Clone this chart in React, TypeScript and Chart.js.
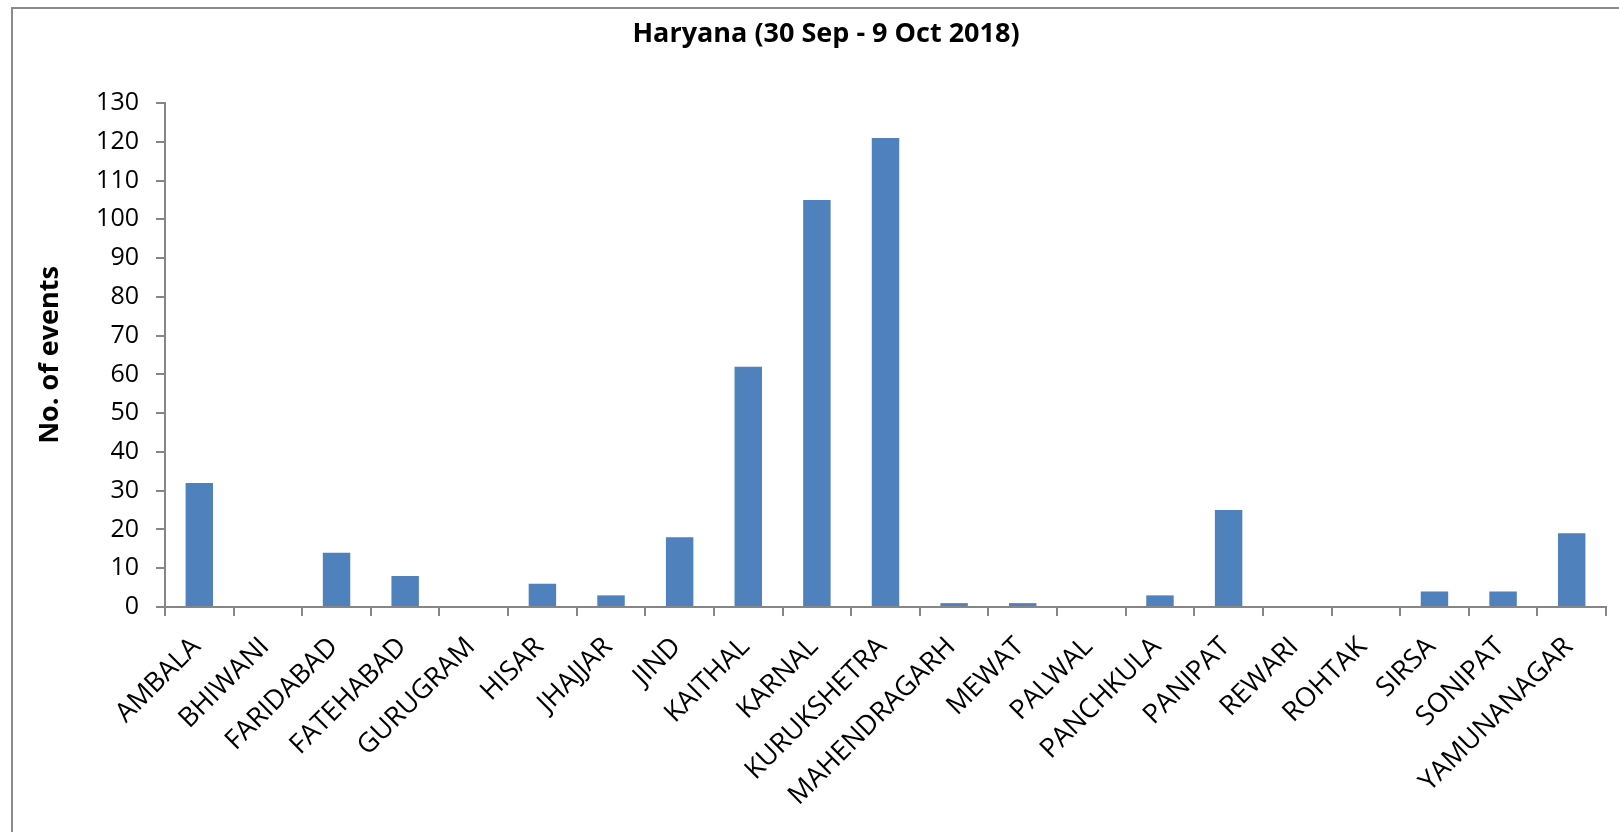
import React, { useEffect, useRef } from "react";
import { Chart, registerables } from "chart.js";

Chart.register(...registerables);

const categories: string[] = [
  "AMBALA", "BHIWANI", "FARIDABAD", "FATEHABAD", "GURUGRAM", "HISAR", "JHAJJAR",
  "JIND", "KAITHAL", "KARNAL", "KURUKSHETRA", "MAHENDRAGARH", "MEWAT", "PALWAL",
  "PANCHKULA", "PANIPAT", "REWARI", "ROHTAK", "SIRSA", "SONIPAT", "YAMUNANAGAR",
];
const eventCounts: number[] = [
  32, 0, 14, 8, 0, 6, 3, 18, 62, 105, 121, 1, 1, 0, 3, 25, 0, 0, 4, 4, 19,
];
const chartTitle = "Haryana (30 Sep - 9 Oct 2018)";
const yAxisTitle = "No. of events";
const yMin = 0;
const yMax = 130;
const yStep = 10;

const FONT = "'Open Sans', 'Noto Sans', sans-serif";
const AXIS_GRAY = "#868686";

const framePlugin = {
  id: "frameAndTitle",
  beforeDraw(chart: any) {
    const ctx = chart.ctx;
    ctx.save();
    ctx.fillStyle = "#ffffff";
    ctx.fillRect(0, 0, chart.width, chart.height);
    ctx.strokeStyle = "#8a8a8a";
    ctx.lineWidth = 2;
    ctx.beginPath();
    ctx.moveTo(12, chart.height + 5);
    ctx.lineTo(12, 8);
    ctx.lineTo(chart.width + 5, 8);
    ctx.stroke();
    ctx.restore();
  },
  afterDraw(chart: any) {
    const ctx = chart.ctx;
    ctx.save();
    ctx.fillStyle = "#000000";
    ctx.font = `bold 27px ${FONT}`;
    ctx.textAlign = "center";
    ctx.textBaseline = "middle";
    ctx.fillText(chartTitle, 826, 34);
    ctx.restore();
  },
};

export default function App() {
  const canvasRef = useRef<HTMLCanvasElement | null>(null);

  useEffect(() => {
    if (!canvasRef.current) return;
    const chart = new Chart(canvasRef.current, {
      type: "bar",
      data: {
        labels: categories,
        datasets: [
          {
            data: eventCounts,
            backgroundColor: "#4F81BD",
            borderWidth: 0,
            barPercentage: 0.4,
            categoryPercentage: 1.0,
          },
        ],
      },
      options: {
        animation: false,
        responsive: false,
        devicePixelRatio: 1,
        layout: { padding: { left: 0, right: 13, top: 103, bottom: 0 } },
        plugins: {
          legend: { display: false },
          tooltip: { enabled: false },
          title: { display: false },
        },
        scales: {
          x: {
            grid: {
              display: true,
              drawOnChartArea: false,
              drawTicks: true,
              tickLength: 9,
              color: AXIS_GRAY,
              lineWidth: 2,
              offset: true,
            },
            border: { display: true, color: AXIS_GRAY, width: 2 },
            ticks: {
              autoSkip: false,
              minRotation: 45,
              maxRotation: 45,
              color: "#000000",
              padding: 15,
              labelOffset: -3,
              font: { family: FONT, size: 27 },
            },
            afterFit(scale: any) {
              scale.height = 225;
              scale.paddingLeft = 0;
              scale.paddingRight = 0;
            },
          },
          y: {
            min: yMin,
            max: yMax,
            grid: {
              display: true,
              drawOnChartArea: false,
              drawTicks: true,
              tickLength: 9,
              color: AXIS_GRAY,
              lineWidth: 2,
            },
            border: { display: true, color: AXIS_GRAY, width: 2 },
            ticks: {
              stepSize: yStep,
              color: "#000000",
              padding: 17,
              font: { family: FONT, size: 25 },
            },
            title: {
              display: true,
              text: yAxisTitle,
              color: "#000000",
              font: { family: FONT, size: 27, weight: "bold" },
              padding: { top: 34, bottom: 0 },
            },
            afterFit(scale: any) {
              scale.width = 165;
              scale.paddingTop = 0;
              scale.paddingBottom = 0;
            },
          },
        },
      },
      plugins: [framePlugin],
    });
    return () => chart.destroy();
  }, []);

  return (
    <div style={{ position: "fixed", left: 0, top: 0, width: 1619, height: 832, background: "#fff" }}>
      <canvas ref={canvasRef} width={1619} height={832} style={{ display: "block" }} />
    </div>
  );
}
